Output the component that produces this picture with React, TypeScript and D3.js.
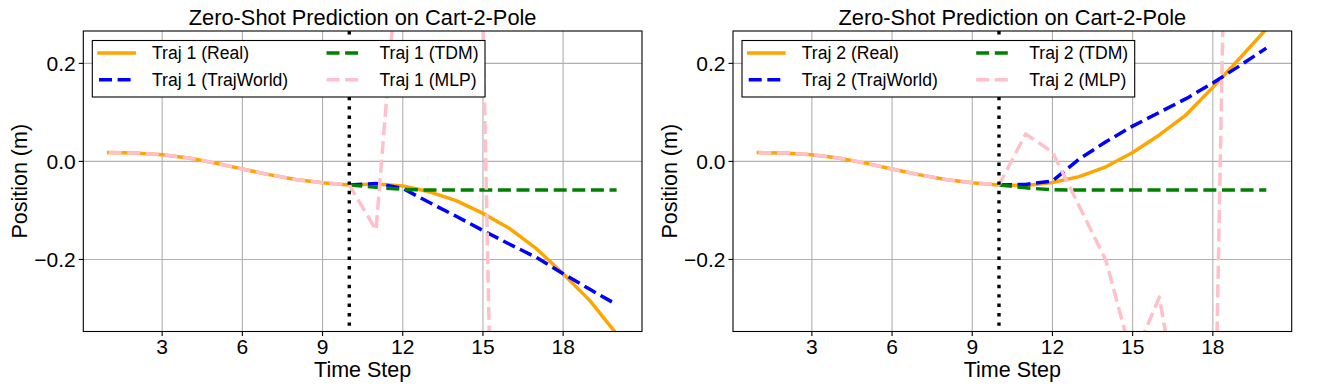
import React from 'react';
import * as d3 from 'd3';

// time steps on the x axis, predictions start at step 10
const STEPS = [1, 2, 3, 4, 5, 6, 7, 8, 9, 10, 11, 12, 13, 14, 15, 16, 17, 18, 19, 20];
const PRED_STEPS = [10, 11, 12, 13, 14, 15, 16, 17, 18, 19, 20];
const SPLIT_STEP = 10;

const X_TICKS = [3, 6, 9, 12, 15, 18];
const Y_TICKS = [-0.2, 0.0, 0.2];
const Y_TICK_LABELS = ['\u22120.2', '0.0', '0.2'];
const X_DOMAIN = [0.05, 20.95];
const Y_DOMAIN = [-0.347, 0.266];

const TITLE = 'Zero-Shot Prediction on Cart-2-Pole';

// Traj 1
const traj1Real = [0.018, 0.017, 0.0135, 0.007, -0.0035, -0.0155, -0.027, -0.037, -0.0435, -0.048,
  -0.046, -0.05, -0.062, -0.08, -0.106, -0.137, -0.178, -0.229, -0.284, -0.352];
const traj1TrajWorld = [-0.048, -0.045, -0.055, -0.084, -0.112, -0.141, -0.169, -0.196, -0.229, -0.261, -0.292];
const traj1TDM = [-0.048, -0.053, -0.057, -0.0585, -0.0585, -0.0585, -0.0585, -0.0585, -0.0585, -0.0585, -0.0585];
const traj1MLP = [0.018, 0.017, 0.0135, 0.007, -0.0035, -0.0155, -0.027, -0.037, -0.0435, -0.048,
  -0.14, 0.537, 0.7, 0.55, 0.28, -2.4, -2.6, -2.3, -2.5, -2.4];

// Traj 2
const traj2Real = [0.018, 0.017, 0.0135, 0.007, -0.0035, -0.0155, -0.027, -0.037, -0.0435, -0.048,
  -0.049, -0.043, -0.031, -0.011, 0.018, 0.054, 0.095, 0.151, 0.21, 0.27];
const traj2TrajWorld = [-0.048, -0.047, -0.04, 0.005, 0.04, 0.072, 0.1, 0.128, 0.16, 0.195, 0.231];
const traj2TDM = [-0.048, -0.054, -0.058, -0.0585, -0.0585, -0.0585, -0.0585, -0.0585, -0.0585, -0.0585, -0.0585];
const traj2MLP = [0.018, 0.017, 0.0135, 0.007, -0.0035, -0.0155, -0.027, -0.037, -0.0435, -0.048,
  0.056, 0.019, -0.091, -0.202, -0.405, -0.277, -0.59, -0.81, 2.1, 2.4];

const FONT = '"Liberation Sans", Arial, Helvetica, sans-serif';
const W = 558.7;
const H = 300.5;
const LW = 3.5;

const Panel = ({ left, top, traj, real, trajWorld, tdm, mlp }) => {
  const x = d3.scaleLinear().domain(X_DOMAIN).range([0, W]);
  const y = d3.scaleLinear().domain(Y_DOMAIN).range([H, 0]);
  const line = d3.line().x(d => x(d[0])).y(d => y(d[1]));
  const clipId = `clip-${traj}`;

  const series = [
    { name: `Traj ${traj} (Real)`, steps: STEPS, values: real, color: '#ffa500', dash: null },
    { name: `Traj ${traj} (TrajWorld)`, steps: PRED_STEPS, values: trajWorld, color: '#0000ff', dash: '13 5.6' },
    { name: `Traj ${traj} (TDM)`, steps: PRED_STEPS, values: tdm, color: '#008000', dash: '13 5.6' },
    { name: `Traj ${traj} (MLP)`, steps: STEPS, values: mlp, color: '#ffc0cb', dash: '13 5.6' },
  ];

  // legend: 2 columns, column-major order
  const legX = 9, legY = 9.5, legW = 392.7, legH = 56.5;
  const legendItems = series.map((s, i) => ({
    ...s,
    col: Math.floor(i / 2),
    row: i % 2,
  }));

  return (
    <g transform={`translate(${left},${top})`}>
      <defs>
        <clipPath id={clipId}>
          <rect x={0} y={0} width={W} height={H} />
        </clipPath>
      </defs>
      {/* grid */}
      {X_TICKS.map(t => (
        <line key={`gx${t}`} x1={x(t)} x2={x(t)} y1={0} y2={H} stroke="#b0b0b0" strokeWidth={1.1} />
      ))}
      {Y_TICKS.map(t => (
        <line key={`gy${t}`} x1={0} x2={W} y1={y(t)} y2={y(t)} stroke="#b0b0b0" strokeWidth={1.1} />
      ))}

      {/* lines */}
      <g clipPath={`url(#${clipId})`}>
        {series.map(s => (
          <path
            key={s.name}
            d={line(s.steps.map((st, i) => [st, s.values[i]]))}
            fill="none"
            stroke={s.color}
            strokeWidth={LW}
            strokeDasharray={s.dash || undefined}
            strokeLinecap={s.dash ? 'butt' : 'square'}
            strokeLinejoin="round"
          />
        ))}
        <line x1={x(SPLIT_STEP)} x2={x(SPLIT_STEP)} y1={0} y2={H}
          stroke="#000" strokeWidth={3.4} strokeDasharray="3.4 6" />
      </g>

      {/* spines */}
      <rect x={0} y={0} width={W} height={H} fill="none" stroke="#000" strokeWidth={1.1} />

      {/* ticks */}
      {X_TICKS.map(t => (
        <g key={`xt${t}`}>
          <line x1={x(t)} x2={x(t)} y1={H} y2={H + 4.5} stroke="#000" strokeWidth={1.1} />
          <text x={x(t)} y={H + 22} textAnchor="middle" fontSize={21} fontFamily={FONT}>{t}</text>
        </g>
      ))}
      {Y_TICKS.map((t, i) => (
        <g key={`yt${t}`}>
          <line x1={-4.5} x2={0} y1={y(t)} y2={y(t)} stroke="#000" strokeWidth={1.1} />
          <text x={-7.5} y={y(t) + 7.5} textAnchor="end" fontSize={21} fontFamily={FONT}>{Y_TICK_LABELS[i]}</text>
        </g>
      ))}

      {/* labels */}
      <text x={W / 2} y={-6} textAnchor="middle" fontSize={21.8} fontFamily={FONT}>{TITLE}</text>
      <text x={W / 2} y={H + 45.5} textAnchor="middle" fontSize={21.5} fontFamily={FONT}>Time Step</text>
      <text transform={`translate(-56,${H / 2}) rotate(-90)`} textAnchor="middle" fontSize={21.5} fontFamily={FONT}>Position (m)</text>

      {/* legend */}
      <g transform={`translate(${legX},${legY})`}>
        <rect x={0} y={0} width={legW} height={legH} fill="#fff" stroke="#000" strokeWidth={1.1} />
        {legendItems.map(s => {
          const hx = 6.7 + s.col * 227.5;
          const hy = 12.5 + s.row * 26.7;
          return (
            <g key={`lg${s.name}`}>
              <line x1={hx} x2={hx + 35.2} y1={hy} y2={hy}
                stroke={s.color} strokeWidth={LW}
                strokeDasharray={s.dash || undefined}
                strokeLinecap={s.dash ? 'butt' : 'square'} />
              <text x={hx + 53} y={hy + 6.3} fontSize={17.6} fontFamily={FONT}>{s.name}</text>
            </g>
          );
        })}
      </g>
    </g>
  );
};

export default function App() {
  return (
    <svg width={1329} height={389} style={{ position: 'fixed', left: 0, top: 0, background: '#fff' }}>
      <rect width={1329} height={389} fill="#fff" />
      <Panel left={83.3} top={31} traj={1} real={traj1Real} trajWorld={traj1TrajWorld} tdm={traj1TDM} mlp={traj1MLP} />
      <Panel left={733} top={31} traj={2} real={traj2Real} trajWorld={traj2TrajWorld} tdm={traj2TDM} mlp={traj2MLP} />
    </svg>
  );
}
